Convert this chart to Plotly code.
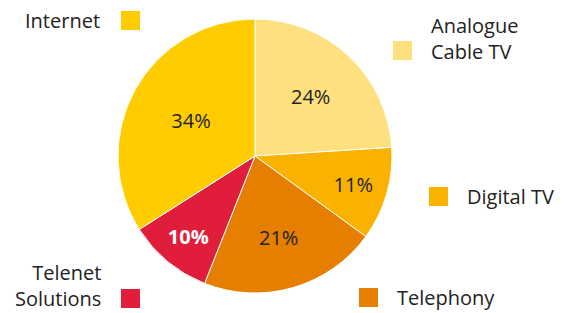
import plotly.graph_objects as go

categories = ["Analogue Cable TV", "Digital TV", "Telephony", "Telenet Solutions", "Internet"]
shares = [24, 11, 21, 10, 34]
colors = ["#FFE07F", "#F9B200", "#E67E00", "#E11D3C", "#FFCC00"]
text_colors = ["#222222", "#222222", "#222222", "#FFFFFF", "#222222"]
templates = ["%{percent:.0%}", "%{percent:.0%}", "%{percent:.0%}", "<b>%{percent:.0%}</b>", "%{percent:.0%}"]

W, H = 569, 313
FONT = "Open Sans, Noto Sans, sans-serif"

fig = go.Figure(go.Pie(
    labels=categories, values=shares, sort=False, direction="clockwise", rotation=0,
    marker=dict(colors=colors, line=dict(color="white", width=1)),
    texttemplate=templates, textposition="inside", insidetextorientation="horizontal",
    textfont=dict(color=text_colors, size=20, family=FONT),
    domain=dict(x=[118 / W, 392 / W], y=[(H - 293) / H, (H - 19) / H]),
    showlegend=False, hoverinfo="label+percent",
))

# custom legend: (label lines, colour index, square px top-left, text anchor x, text y center, align)
legend_items = [
    ("Internet", 4, (121, 11), 102, 21, "right"),
    ("Analogue<br>Cable TV", 0, (393, 41), 429, 38, "left"),
    ("Digital TV", 1, (429, 187), 465, 196, "left"),
    ("Telephony", 2, (359, 288), 395, 297, "left"),
    ("Telenet<br>Solutions", 3, (121, 289), 103, 285, "right"),
]
for text, idx, (sx, sy), tx, ty, align in legend_items:
    fig.add_shape(type="rect", xref="paper", yref="paper",
                  x0=sx / W, x1=(sx + 19) / W, y0=1 - (sy + 19) / H, y1=1 - sy / H,
                  fillcolor=colors[idx], line=dict(width=0))
    fig.add_annotation(xref="paper", yref="paper", x=tx / W, y=1 - ty / H,
                       text=text, showarrow=False, align=align,
                       xanchor="right" if align == "right" else "left", yanchor="middle",
                       font=dict(size=20, color="#222222", family=FONT))

fig.update_layout(width=W, height=H, margin=dict(l=0, r=0, t=0, b=0),
                  paper_bgcolor="white", plot_bgcolor="white")
fig.write_html("out.html", config={"displayModeBar": False},
               post_script="document.body.style.margin='0';")
